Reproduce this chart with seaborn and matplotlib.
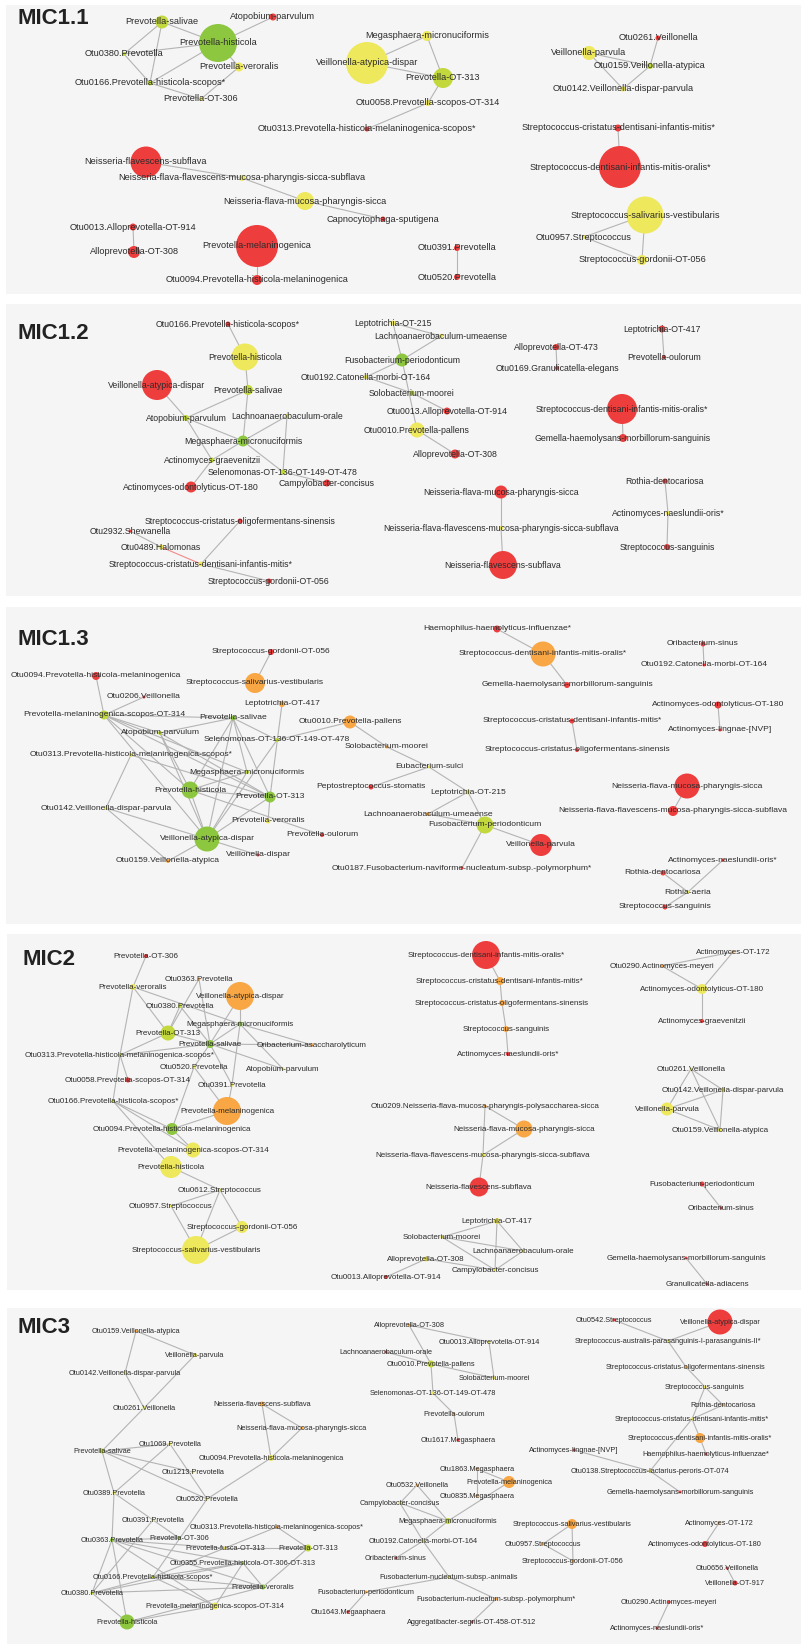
import numpy as np
import pandas as pd
import matplotlib.pyplot as plt
import seaborn as sns

# node colour groups
colors = {'r': '#ee3d3d', 'o': '#f8a744', 'y': '#eee85c', 'l': '#c3d83c', 'g': '#8dc63f'}

# ---------------- MIC1.1 ----------------
p1_names = ['Prevotella-salivae', 'Atopobium-parvulum', 'Prevotella-histicola', 'Otu0380.Prevotella',
            'Prevotella-veroralis', 'Otu0166.Prevotella-histicola-scopos*', 'Prevotella-OT-306',
            'Otu0313.Prevotella-histicola-melaninogenica-scopos*', 'Neisseria-flavescens-subflava',
            'Neisseria-flava-flavescens-mucosa-pharyngis-sicca-subflava', 'Neisseria-flava-mucosa-pharyngis-sicca',
            'Capnocytophaga-sputigena', 'Otu0013.Alloprevotella-OT-914', 'Alloprevotella-OT-308',
            'Prevotella-melaninogenica', 'Otu0094.Prevotella-histicola-melaninogenica', 'Veillonella-atypica-dispar',
            'Megasphaera-micronuciformis', 'Prevotella-OT-313', 'Otu0058.Prevotella-scopos-OT-314',
            'Otu0261.Veillonella', 'Veillonella-parvula', 'Otu0159.Veillonella-atypica',
            'Otu0142.Veillonella-dispar-parvula', 'Streptococcus-cristatus-dentisani-infantis-mitis*',
            'Streptococcus-dentisani-infantis-mitis-oralis*', 'Streptococcus-salivarius-vestibularis',
            'Otu0957.Streptococcus', 'Streptococcus-gordonii-OT-056', 'Otu0391.Prevotella', 'Otu0520.Prevotella']
p1_x = [162, 273, 218, 124, 239, 150, 201, 367, 146, 242, 305, 383, 133, 134, 257, 257, 367, 427, 443, 428,
        658, 589, 650, 623, 618, 620, 645, 584, 642, 457, 457]
p1_y = [22, 17, 43, 54, 67, 83, 99, 129, 162, 178, 201, 219, 227, 252, 246, 280, 63, 36, 78, 103,
        38, 53, 66, 89, 128, 167, 215, 237, 260, 248, 277]
p1_size = [13, 7, 38, 4, 9, 5, 4, 5, 31, 6, 18, 5, 7, 12, 42, 10, 42, 10, 20, 6,
           5, 14, 6, 5, 7, 42, 37, 4, 10, 6, 6]
p1_group = ['l', 'r', 'g', 'l', 'y', 'l', 'y', 'r', 'r', 'y', 'y', 'r', 'r', 'r', 'r', 'r', 'y', 'y', 'l', 'y',
            'r', 'y', 'l', 'y', 'r', 'r', 'y', 'y', 'y', 'r', 'r']
p1_links = [(0, 2), (0, 3), (0, 5), (2, 1), (2, 3), (2, 5), (2, 4), (3, 5), (5, 6), (4, 6), (7, 19), (8, 9),
            (9, 10), (10, 11), (12, 13), (14, 15), (16, 17), (16, 18), (17, 18), (18, 19), (20, 22), (21, 22),
            (21, 23), (22, 23), (24, 25), (26, 27), (26, 28), (27, 28), (29, 30)]

# ---------------- MIC1.2 ----------------
p2_names = ['Otu0166.Prevotella-histicola-scopos*', 'Prevotella-histicola', 'Veillonella-atypica-dispar',
            'Prevotella-salivae', 'Atopobium-parvulum', 'Lachnoanaerobaculum-orale', 'Megasphaera-micronuciformis',
            'Actinomyces-graevenitzii', 'Selenomonas-OT-136-OT-149-OT-478', 'Campylobacter-concisus',
            'Actinomyces-odontolyticus-OT-180', 'Streptococcus-cristatus-oligofermentans-sinensis',
            'Otu2932.Shewanella', 'Otu0489.Halomonas', 'Streptococcus-cristatus-dentisani-infantis-mitis*',
            'Streptococcus-gordonii-OT-056', 'Leptotrichia-OT-215', 'Lachnoanaerobaculum-umeaense',
            'Fusobacterium-periodonticum', 'Otu0192.Catonella-morbi-OT-164', 'Solobacterium-moorei',
            'Otu0013.Alloprevotella-OT-914', 'Otu0010.Prevotella-pallens', 'Alloprevotella-OT-308',
            'Alloprevotella-OT-473', 'Otu0169.Granulicatella-elegans', 'Leptotrichia-OT-417', 'Prevotella-oulorum',
            'Streptococcus-dentisani-infantis-mitis-oralis*', 'Gemella-haemolysans-morbillorum-sanguinis',
            'Neisseria-flava-mucosa-pharyngis-sicca', 'Neisseria-flava-flavescens-mucosa-pharyngis-sicca-subflava',
            'Neisseria-flavescens-subflava', 'Rothia-dentocariosa', 'Actinomyces-naeslundii-oris*',
            'Streptococcus-sanguinis']
p2_x = [228, 245, 157, 248, 186, 287, 243, 212, 283, 327, 191, 240, 130, 161, 201, 269, 393, 441, 402, 366,
        412, 447, 417, 455, 556, 557, 662, 664, 622, 623, 501, 501, 503, 665, 668, 667]
p2_y = [324, 357, 385, 390, 418, 416, 441, 460, 472, 483, 487, 521, 531, 547, 564, 581, 323, 336, 360, 377,
        393, 411, 430, 454, 347, 368, 329, 357, 409, 438, 492, 528, 565, 481, 513, 547]
p2_size = [5, 27, 30, 10, 6, 4, 11, 5, 5, 7, 11, 5, 3, 5, 5, 5, 5, 4, 13, 4,
           5, 7, 15, 9, 6, 4, 7, 4, 30, 8, 13, 4, 28, 5, 4, 6]
p2_group = ['r', 'y', 'r', 'l', 'l', 'y', 'g', 'l', 'l', 'r', 'r', 'r', 'r', 'y', 'y', 'r', 'y', 'y', 'g', 'y',
            'l', 'r', 'y', 'r', 'r', 'r', 'r', 'r', 'r', 'r', 'r', 'y', 'r', 'r', 'y', 'r']
p2_links = [(0, 1), (1, 3), (3, 4), (3, 6), (2, 4), (4, 6), (4, 7), (6, 5), (5, 8), (6, 8), (6, 7), (7, 10),
            (8, 9), (11, 14), (12, 13), (14, 15), (16, 17), (16, 18), (17, 18), (18, 19), (18, 22), (19, 20),
            (20, 21), (22, 23), (24, 25), (26, 27), (28, 29), (30, 31), (31, 32), (33, 34), (34, 35)]
p2_neg_links = [(13, 14)]

# ---------------- MIC1.3 ----------------
p3_names = ['Streptococcus-gordonii-OT-056', 'Otu0094.Prevotella-histicola-melaninogenica',
            'Streptococcus-salivarius-vestibularis', 'Otu0206.Veillonella', 'Leptotrichia-OT-417',
            'Prevotella-melaninogenica-scopos-OT-314', 'Prevotella-salivae', 'Otu0010.Prevotella-pallens',
            'Atopobium-parvulum', 'Selenomonas-OT-136-OT-149-OT-478',
            'Otu0313.Prevotella-histicola-melaninogenica-scopos*', 'Megasphaera-micronuciformis',
            'Prevotella-histicola', 'Prevotella-OT-313', 'Otu0142.Veillonella-dispar-parvula', 'Prevotella-veroralis',
            'Prevotella-oulorum', 'Veillonella-atypica-dispar', 'Veillonella-dispar', 'Otu0159.Veillonella-atypica',
            'Solobacterium-moorei', 'Eubacterium-sulci', 'Peptostreptococcus-stomatis', 'Leptotrichia-OT-215',
            'Lachnoanaerobaculum-umeaense', 'Fusobacterium-periodonticum', 'Veillonella-parvula',
            'Otu0187.Fusobacterium-naviforme-nucleatum-subsp.-polymorphum*', 'Haemophilus-haemolyticus-influenzae*',
            'Streptococcus-dentisani-infantis-mitis-oralis*', 'Gemella-haemolysans-morbillorum-sanguinis',
            'Streptococcus-cristatus-dentisani-infantis-mitis*', 'Streptococcus-cristatus-oligofermentans-sinensis',
            'Oribacterium-sinus', 'Otu0192.Catonella-morbi-OT-164', 'Actinomyces-odontolyticus-OT-180',
            'Actinomyces-lingnae-[NVP]', 'Neisseria-flava-mucosa-pharyngis-sicca',
            'Neisseria-flava-flavescens-mucosa-pharyngis-sicca-subflava', 'Actinomyces-naeslundii-oris*',
            'Rothia-dentocariosa', 'Rothia-aeria', 'Streptococcus-sanguinis']
p3_x = [271, 96, 255, 144, 282, 104, 233, 350, 160, 277, 131, 247, 190, 270, 106, 268, 322, 207, 258, 168,
        387, 429, 371, 468, 428, 485, 541, 462, 497, 543, 567, 572, 577, 703, 704, 718, 720, 687, 673, 723,
        663, 688, 665]
p3_y = [652, 676, 683, 697, 704, 715, 718, 722, 733, 740, 755, 772, 790, 797, 808, 821, 835, 839, 855, 861,
        747, 767, 787, 792, 814, 825, 845, 868, 629, 654, 685, 721, 750, 644, 665, 705, 730, 786, 811, 860,
        873, 892, 907]
p3_size = [6, 8, 20, 3, 6, 9, 5, 13, 4, 4, 4, 4, 17, 11, 4, 5, 4, 25, 3, 4,
           3, 3, 5, 5, 4, 17, 22, 3, 7, 25, 6, 5, 4, 5, 3, 7, 3, 25, 10, 3, 5, 3, 5]
p3_group = ['r', 'r', 'o', 'r', 'o', 'l', 'g', 'o', 'l', 'l', 'y', 'l', 'g', 'g', 'y', 'y', 'r', 'g', 'r', 'o',
            'o', 'y', 'r', 'y', 'o', 'l', 'r', 'r', 'r', 'o', 'r', 'r', 'r', 'r', 'r', 'r', 'r', 'r', 'r', 'r',
            'r', 'y', 'r']
p3_links = [(0, 2), (1, 5), (3, 5), (5, 6), (5, 11), (5, 12), (5, 17), (5, 13), (5, 8), (6, 8), (6, 12),
            (6, 17), (6, 13), (6, 11), (6, 9), (4, 13), (7, 9), (9, 17), (8, 12), (8, 13), (8, 17), (10, 14),
            (10, 13), (11, 12), (11, 17), (12, 13), (12, 17), (12, 16), (13, 15), (13, 17), (14, 17), (14, 19),
            (17, 19), (17, 18), (7, 20), (20, 21), (21, 23), (22, 21), (23, 25), (24, 23), (24, 25), (25, 26),
            (25, 27), (28, 29), (29, 30), (31, 32), (33, 34), (35, 36), (37, 38), (39, 41), (40, 41), (41, 42)]

# ---------------- MIC2 ----------------
p4_names = ['Prevotella-OT-306', 'Otu0363.Prevotella', 'Prevotella-veroralis', 'Veillonella-atypica-dispar',
            'Otu0380.Prevotella', 'Megasphaera-micronuciformis', 'Prevotella-OT-313', 'Prevotella-salivae',
            'Oribacterium-asaccharolyticum', 'Otu0313.Prevotella-histicola-melaninogenica-scopos*',
            'Otu0520.Prevotella', 'Atopobium-parvulum', 'Otu0058.Prevotella-scopos-OT-314', 'Otu0391.Prevotella',
            'Otu0166.Prevotella-histicola-scopos*', 'Prevotella-melaninogenica',
            'Otu0094.Prevotella-histicola-melaninogenica', 'Prevotella-melaninogenica-scopos-OT-314',
            'Prevotella-histicola', 'Otu0612.Streptococcus', 'Otu0957.Streptococcus', 'Streptococcus-gordonii-OT-056',
            'Streptococcus-salivarius-vestibularis', 'Streptococcus-dentisani-infantis-mitis-oralis*',
            'Streptococcus-cristatus-dentisani-infantis-mitis*', 'Streptococcus-cristatus-oligofermentans-sinensis',
            'Streptococcus-sanguinis', 'Actinomyces-naeslundii-oris*', 'Actinomyces-OT-172',
            'Otu0290.Actinomyces-meyeri', 'Actinomyces-odontolyticus-OT-180', 'Actinomyces-graevenitzii',
            'Otu0209.Neisseria-flava-mucosa-pharyngis-polysaccharea-sicca', 'Neisseria-flava-mucosa-pharyngis-sicca',
            'Neisseria-flava-flavescens-mucosa-pharyngis-sicca-subflava', 'Neisseria-flavescens-subflava',
            'Otu0261.Veillonella', 'Otu0142.Veillonella-dispar-parvula', 'Veillonella-parvula',
            'Otu0159.Veillonella-atypica', 'Fusobacterium-periodonticum', 'Oribacterium-sinus',
            'Gemella-haemolysans-morbillorum-sanguinis', 'Granulicatella-adiacens', 'Leptotrichia-OT-417',
            'Solobacterium-moorei', 'Lachnoanaerobaculum-orale', 'Alloprevotella-OT-308', 'Campylobacter-concisus',
            'Otu0013.Alloprevotella-OT-914']
p4_x = [146, 199, 133, 240, 180, 240, 168, 210, 312, 120, 194, 283, 128, 232, 113, 227, 172, 193, 171, 220,
        171, 242, 196, 486, 500, 502, 506, 508, 733, 662, 702, 702, 485, 524, 483, 479, 691, 723, 667, 720,
        702, 721, 686, 707, 497, 442, 523, 426, 495, 386]
p4_y = [956, 979, 987, 996, 1006, 1024, 1033, 1044, 1045, 1055, 1067, 1069, 1080, 1085, 1101, 1111, 1129,
        1150, 1167, 1190, 1206, 1227, 1250, 955, 981, 1003, 1029, 1054, 952, 966, 989, 1021, 1106, 1129, 1155,
        1187, 1069, 1090, 1109, 1130, 1184, 1208, 1258, 1284, 1221, 1237, 1251, 1259, 1270, 1277]
p4_size = [4, 3, 6, 28, 4, 5, 15, 8, 3, 3, 3, 3, 5, 3, 3, 28, 12, 15, 22, 3,
           3, 12, 28, 28, 8, 6, 6, 4, 3, 3, 10, 4, 3, 17, 4, 19, 3, 4, 13, 4,
           5, 3, 3, 3, 6, 3, 3, 5, 3, 4]
p4_group = ['r', 'o', 'y', 'o', 'l', 'g', 'l', 'g', 'o', 'l', 'y', 'y', 'r', 'y', 'l', 'o', 'g', 'y', 'y', 'y',
            'y', 'y', 'y', 'r', 'o', 'o', 'o', 'r', 'o', 'o', 'y', 'r', 'o', 'o', 'y', 'r', 'y', 'y', 'y', 'y',
            'r', 'r', 'r', 'r', 'y', 'y', 'y', 'y', 'y', 'r']
p4_links = [(0, 2), (2, 6), (2, 5), (2, 9), (9, 14), (1, 6), (1, 7), (3, 7), (3, 5), (4, 6), (4, 7), (5, 7),
            (5, 11), (5, 13), (5, 8), (6, 9), (6, 7), (7, 8), (7, 9), (7, 11), (7, 13), (7, 10), (10, 16),
            (10, 15), (9, 12), (14, 16), (14, 17), (14, 18), (16, 15), (16, 17), (13, 15), (18, 19), (19, 20),
            (19, 21), (19, 22), (20, 22), (21, 22), (23, 24), (24, 25), (25, 26), (26, 27), (28, 29), (28, 30),
            (29, 30), (30, 31), (32, 33), (32, 34), (33, 34), (34, 35), (36, 38), (36, 37), (36, 39), (38, 37),
            (38, 39), (37, 39), (40, 41), (42, 43), (44, 45), (44, 46), (44, 48), (45, 46), (45, 48), (46, 48),
            (47, 48), (47, 49)]

# ---------------- MIC3 ----------------
p5_names = ['Otu0159.Veillonella-atypica', 'Veillonella-parvula', 'Otu0142.Veillonella-dispar-parvula',
            'Otu0261.Veillonella', 'Neisseria-flavescens-subflava', 'Neisseria-flava-mucosa-pharyngis-sicca',
            'Prevotella-salivae', 'Otu1069.Prevotella', 'Otu0094.Prevotella-histicola-melaninogenica',
            'Otu1213.Prevotella', 'Otu0389.Prevotella', 'Otu0520.Prevotella', 'Otu0391.Prevotella',
            'Otu0313.Prevotella-histicola-melaninogenica-scopos*', 'Otu0363.Prevotella', 'Prevotella-OT-306',
            'Prevotella-fusca-OT-313', 'Prevotella-OT-313', 'Otu0355.Prevotella-histicola-OT-306-OT-313',
            'Otu0166.Prevotella-histicola-scopos*', 'Prevotella-veroralis', 'Otu0380.Prevotella',
            'Prevotella-melaninogenica-scopos-OT-314', 'Prevotella-histicola', 'Alloprevotella-OT-308',
            'Otu0013.Alloprevotella-OT-914', 'Lachnoanaerobaculum-orale', 'Otu0010.Prevotella-pallens',
            'Solobacterium-moorei', 'Selenomonas-OT-136-OT-149-OT-478', 'Prevotella-oulorum', 'Otu1617.Megasphaera',
            'Otu1863.Megasphaera', 'Prevotella-melaninogenica', 'Otu0532.Veillonella', 'Otu0835.Megasphaera',
            'Campylobacter-concisus', 'Megasphaera-micronuciformis', 'Otu0192.Catonella-morbi-OT-164',
            'Oribacterium-sinus', 'Fusobacterium-nucleatum-subsp.-animalis', 'Fusobacterium-periodonticum',
            'Fusobacterium-nucleatum-subsp.-polymorphum*', 'Otu1643.Megaaphaera',
            'Aggregatibacter-segnis-OT-458-OT-512', 'Otu0542.Streptococcus', 'Veillonella-atypica-dispar',
            'Streptococcus-australis-parasanguinis-I-parasanguinis-II*',
            'Streptococcus-cristatus-oligofermentans-sinensis', 'Streptococcus-sanguinis', 'Rothia-dentocariosa',
            'Streptococcus-cristatus-dentisani-infantis-mitis*', 'Streptococcus-dentisani-infantis-mitis-oralis*',
            'Haemophilus-haemolyticus-influenzae*', 'Actinomyces-lingnae-[NVP]',
            'Otu0138.Streptococcus-lactarius-peroris-OT-074', 'Gemella-haemolysans-morbillorum-sanguinis',
            'Streptococcus-salivarius-vestibularis', 'Otu0957.Streptococcus', 'Streptococcus-gordonii-OT-056',
            'Actinomyces-OT-172', 'Actinomyces-odontolyticus-OT-180', 'Otu0656.Veillonella', 'Veillonella-OT-917',
            'Otu0290.Actinomyces-meyeri', 'Actinomyces-naeslundii-oris*']
p5_x = [136, 195, 125, 144, 262, 302, 102, 170, 271, 193, 114, 207, 153, 277, 112, 179, 225, 308, 243, 153,
        263, 92, 215, 127, 409, 489, 386, 431, 494, 433, 454, 458, 477, 509, 417, 477, 400, 448, 423, 396,
        449, 366, 496, 348, 472, 614, 720, 668, 686, 705, 723, 692, 700, 706, 574, 650, 680, 572, 543, 573,
        719, 705, 727, 735, 669, 657]
p5_y = [1331, 1355, 1373, 1408, 1404, 1428, 1451, 1444, 1458, 1472, 1493, 1499, 1520, 1527, 1540, 1538, 1548,
        1548, 1563, 1577, 1587, 1593, 1606, 1622, 1325, 1342, 1352, 1364, 1378, 1393, 1414, 1440, 1469, 1482,
        1485, 1496, 1503, 1521, 1541, 1558, 1577, 1592, 1599, 1612, 1622, 1320, 1322, 1341, 1367, 1387, 1405,
        1419, 1438, 1454, 1450, 1471, 1492, 1524, 1544, 1561, 1523, 1544, 1568, 1583, 1602, 1628]
p5_size = [3, 4, 3, 3, 5, 3, 5, 3, 6, 3, 3, 3, 3, 3, 4, 3, 3, 7, 3, 3,
           5, 3, 7, 15, 3, 3, 3, 7, 3, 3, 3, 3, 3, 12, 3, 3, 3, 6, 3, 3,
           3, 3, 3, 3, 3, 3, 25, 3, 3, 3, 3, 3, 10, 3, 3, 3, 3, 10, 3, 3,
           3, 6, 3, 5, 3, 3]
p5_group = ['o', 'y', 'y', 'y', 'o', 'o', 'l', 'y', 'y', 'y', 'y', 'y', 'y', 'o', 'g', 'g', 'y', 'l', 'g', 'l',
            'g', 'l', 'y', 'g', 'o', 'y', 'r', 'l', 'y', 'y', 'o', 'r', 'o', 'o', 'o', 'o', 'y', 'l', 'y', 'r',
            'y', 'o', 'o', 'r', 'r', 'r', 'r', 'y', 'o', 'y', 'o', 'y', 'o', 'r', 'r', 'y', 'r', 'o', 'o', 'o',
            'o', 'r', 'r', 'r', 'r', 'r']
p5_links = [(0, 2), (0, 1), (1, 3), (2, 3), (3, 6), (4, 5), (4, 8), (5, 8), (8, 11), (6, 7), (6, 9), (6, 11),
            (6, 10), (7, 10), (7, 11), (10, 12), (10, 14), (11, 19), (12, 15), (12, 21), (14, 21), (14, 23),
            (14, 16), (14, 18), (14, 20), (14, 22), (14, 15), (13, 17), (13, 19), (16, 17), (17, 20), (18, 20),
            (18, 22), (18, 21), (18, 19), (20, 21), (20, 23), (20, 19), (19, 21), (19, 22), (21, 23), (23, 22),
            (24, 25), (24, 27), (25, 28), (27, 28), (26, 27), (27, 29), (29, 30), (30, 31), (32, 33), (32, 35),
            (37, 33), (34, 36), (34, 37), (36, 37), (36, 38), (37, 38), (38, 39), (38, 40), (40, 41), (40, 42),
            (41, 43), (42, 44), (45, 47), (46, 47), (47, 48), (48, 49), (49, 50), (49, 51), (50, 51), (51, 52),
            (52, 53), (51, 55), (54, 55), (55, 56), (57, 58), (57, 59), (58, 59), (60, 61), (62, 63), (64, 65)]

W, H = 803, 1644
AREA_MAX = 2000
fig = plt.figure(figsize=(W / 100, H / 100), dpi=100)
fig.patch.set_facecolor('white')


def draw_panel(box, title, title_pos, names, xs, ys, ds, grps, links, fs, neg_links=()):
    x0, y0, x1, y1 = box
    ax = fig.add_axes([x0 / W, 1 - y1 / H, (x1 - x0) / W, (y1 - y0) / H])
    ax.set_facecolor('#f5f5f5')
    df = pd.DataFrame({'name': names, 'x': xs, 'y': ys, 'area': np.square(ds), 'grp': grps})
    for i, j in links:
        ax.plot(df.x[[i, j]], df.y[[i, j]], color='#b4b4b4', lw=0.8, zorder=1)
    for i, j in neg_links:
        ax.plot(df.x[[i, j]], df.y[[i, j]], color='#f08a8a', lw=0.8, zorder=1)
    sns.scatterplot(data=df, x='x', y='y', hue='grp', palette=colors, size='area',
                    sizes=(0, AREA_MAX * 0.5184), size_norm=(0, AREA_MAX),
                    linewidth=0, edgecolor='none', legend=False, ax=ax, zorder=2)
    for row in df.itertuples():
        ax.text(row.x, row.y, row.name, ha='center', va='center', fontsize=fs,
                color='#2b2b2b', family=['Liberation Sans', 'DejaVu Sans'], zorder=3)
    ax.text(title_pos[0], title_pos[1], title, ha='left', va='center', fontsize=16,
            fontweight='bold', color='#222222', family=['Liberation Sans', 'DejaVu Sans'])
    ax.set_xlim(x0, x1)
    ax.set_ylim(y1, y0)
    ax.set_xticks([])
    ax.set_yticks([])
    ax.set_xlabel('')
    ax.set_ylabel('')
    for s in ax.spines.values():
        s.set_visible(False)


draw_panel((6, 5, 801, 294), 'MIC1.1', (18, 19), p1_names, p1_x, p1_y, p1_size, p1_group, p1_links, 6.6)
draw_panel((6, 304, 801, 596), 'MIC1.2', (18, 333), p2_names, p2_x, p2_y, p2_size, p2_group, p2_links, 6.3,
           p2_neg_links)
draw_panel((6, 607, 801, 924), 'MIC1.3', (18, 640), p3_names, p3_x, p3_y, p3_size, p3_group, p3_links, 6.1)
draw_panel((7, 934, 801, 1290), 'MIC2', (23, 959), p4_names, p4_x, p4_y, p4_size, p4_group, p4_links, 5.8)
draw_panel((7, 1308, 801, 1644), 'MIC3', (18, 1327), p5_names, p5_x, p5_y, p5_size, p5_group, p5_links, 5.3)

fig.savefig('out.png', dpi=100)
